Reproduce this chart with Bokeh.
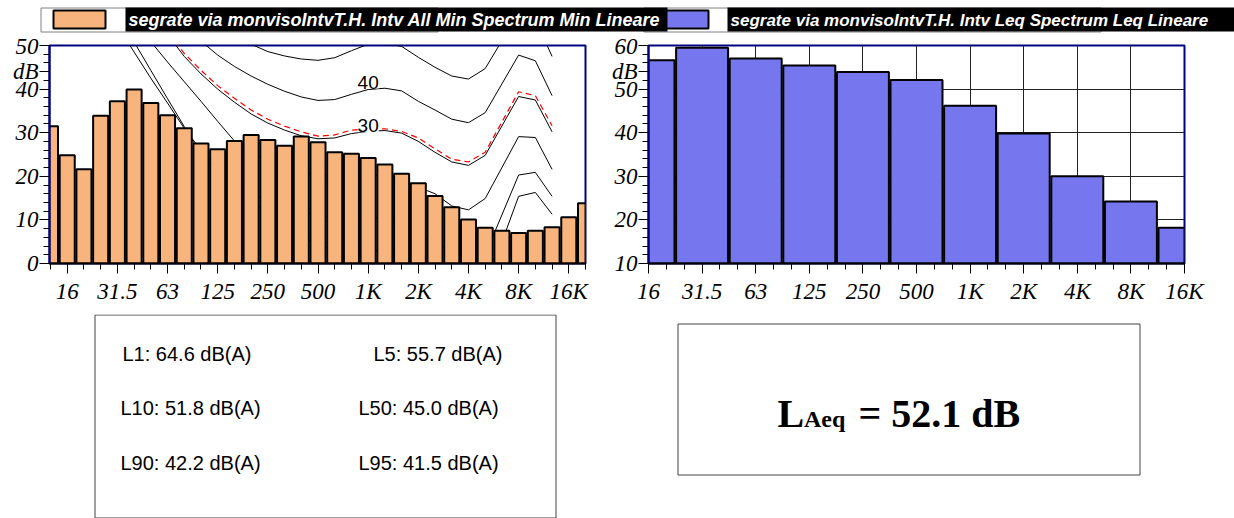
from bokeh.plotting import figure
from bokeh.models import Range1d, FixedTicker
from bokeh.layouts import column, row
from bokeh.embed import file_html
from bokeh.resources import INLINE
from bokeh.core.properties import value

# ---------------- data ----------------
third_labels = ["12.5", "16", "20", "25", "31.5", "40", "50", "63", "80", "100", "125", "160",
                "200", "250", "315", "400", "500", "630", "800", "1K", "1.25K", "1.6K", "2K",
                "2.5K", "3.15K", "4K", "5K", "6.3K", "8K", "10K", "12.5K", "16K", "20K"]
min_spectrum = [31.5, 24.8, 21.6, 33.9, 37.2, 39.9, 36.8, 34.0, 31.0, 27.5, 26.2, 28.1,
                29.5, 28.3, 27.0, 29.1, 27.8, 25.5, 25.2, 24.2, 22.7, 20.6, 18.4,
                15.5, 12.9, 10.1, 8.2, 7.5, 7.0, 7.5, 8.3, 10.6, 13.8]

octave_labels = ["16", "31.5", "63", "125", "250", "500", "1K", "2K", "4K", "8K", "16K"]
leq_spectrum = [56.6, 59.5, 57.0, 55.4, 53.9, 52.1, 46.2, 39.8, 30.0, 24.2, 18.2]

contour_freqs = ["31.5", "40", "50", "63", "80", "100", "125", "160", "200", "250", "315", "400",
                 "500", "630", "800", "1K", "1.25K", "1.6K", "2K", "2.5K", "3.15K", "4K", "5K",
                 "8K", "10K", "12.5K"]
contour_0 = [54.5, 48.5, 42.5, 36.8, 31, 26, 22, 18, 14.5, 11.5, 8.6, 6.2,
             4.4, 3.0, 2.2, 2.4, 3.5, 1.7, -1.3, -4.2, -6.0, -5.4, -5.5,
             15.4, 16.3, 11.3]
contour_10 = [57, 50.8, 44.3, 37.8, 31.4, 25, 21, 18, 16, 14.5, 13, 12,
              11, 10.5, 10, 10, 11, 10, 7, 4.5, 3, 2.5, 2,
              20.3, 20.9, 15.4]
contour_20 = [60, 55.5, 50.9, 46.2, 41.7, 37.2, 32.6, 28.1, 25.5, 23.5, 22, 21,
              20.2, 20, 20, 20, 20.5, 19.5, 17.5, 16, 13.2, 12.3, 14.9,
              29.1, 28.9, 21.6]
contour_30 = [66, 61.5, 57, 52.5, 47.5, 43.5, 40, 37, 34.3, 32.2, 30.6, 29.3,
              28.6, 28.8, 29.8, 30.3, 30.5, 29.9, 28, 25.5, 23.3, 22.5, 24.8,
              38.3, 37.5, 30.2]
contour_40 = [75, 70, 65, 60.5, 56, 51, 47.8, 45.2, 43, 41.1, 39.5, 38.2,
              37.4, 37.6, 38.8, 39.9, 40.2, 39.6, 37.2, 35.2, 33.1, 32.3, 34.6,
              47.8, 46.5, 38.5]
contour_50 = [84, 79, 74, 69, 64.5, 60, 56, 53, 50.3, 48.6, 47.6, 46.9,
              46.6, 47.2, 48.8, 50.3, 50.5, 49.8, 47.3, 45, 43, 42.3, 44.7,
              57.5, 56, 47.5]
reference_curve = [66.8, 62.3, 57.8, 53, 48.2, 44.3, 40.8, 37.9, 35.2, 33.1, 31.5, 30.2,
                   29.2, 29.5, 30.6, 30.9, 30.9, 30.3, 28.8, 26.3, 23.9, 23.3, 25.5,
                   39.4, 38.5, 31.6]
contour_label_levels = [30, 40]

stats_labels = ["L1", "L5", "L10", "L50", "L90", "L95"]
stats_values = [64.6, 55.7, 51.8, 45.0, 42.2, 41.5]
laeq_value = 52.1

legend_min = "segrate via monvisoIntvT.H. Intv All Min Spectrum Min Lineare"
legend_leq = "segrate via monvisoIntvT.H. Intv Leq Spectrum Leq Lineare"

# ---------------- style ----------------
ORANGE = "#F7B47C"
BLUE = "#7676EE"
NAVY = "#000080"
SERIF = value("Liberation Serif")
SANS = value("Liberation Sans")


def style_axes(p, yticks, yminor, ylabels, xticks, xminor, xlabels):
    p.yaxis.ticker = FixedTicker(ticks=yticks, minor_ticks=yminor)
    p.yaxis.major_label_overrides = ylabels
    p.xaxis.ticker = FixedTicker(ticks=xticks, minor_ticks=xminor)
    p.xaxis.major_label_overrides = xlabels
    for ax in (p.xaxis[0], p.yaxis[0]):
        ax.major_label_text_font = "Liberation Serif"
        ax.major_label_text_font_style = "italic"
        ax.major_label_text_font_size = "23px"
        ax.major_label_text_color = "black"
        ax.major_tick_out = 10
        ax.major_tick_in = 0
        ax.minor_tick_out = 6
        ax.minor_tick_in = 0
        ax.major_tick_line_color = "black"
        ax.minor_tick_line_color = "black"
    p.yaxis.major_label_standoff = 1
    p.xaxis.major_label_standoff = 5
    p.yaxis.axis_line_color = NAVY
    p.yaxis.axis_line_width = 2
    p.xaxis.axis_line_color = "black"
    p.xaxis.axis_line_width = 2
    p.outline_line_color = NAVY
    p.outline_line_width = 2
    p.background_fill_color = "white"
    p.border_fill_color = "white"


# ---------------- header (legend) ----------------
hdr = figure(width=1234, height=33, x_range=Range1d(0, 1234), y_range=Range1d(33, 0),
             toolbar_location=None, output_backend="svg", min_border=0,
             x_axis_type=None, y_axis_type=None)
hdr.grid.visible = False
hdr.outline_line_color = None
hdr.quad(left=[40.5, 643.5], right=[437.5, 1100.5], top=[7.5, 7.5], bottom=[31.5, 31.5],
         fill_color=None, line_color="#808080", line_width=1)
hdr.quad(left=[53, 656], right=[105, 708], top=[10, 10], bottom=[28, 28],
         fill_color=[ORANGE, BLUE], line_color="black", line_width=2)
hdr.quad(left=[125, 727], right=[667, 1234], top=[7, 7], bottom=[31, 31],
         fill_color="black", line_color=None)
hdr.text(x=[128], y=[19.5], text=[legend_min],
         text_color="white", text_font=SANS, text_font_style="bold italic",
         text_font_size="18px", text_baseline="middle", text_align="left")
hdr.text(x=[730], y=[19.5], text=[legend_leq],
         text_color="white", text_font=SANS, text_font_style="bold italic",
         text_font_size="17px", text_baseline="middle", text_align="left")

# ---------------- left chart (min spectrum, third octave) ----------------
xpos = [i - 1 for i in range(len(third_labels))]
pl = figure(width=600, height=281, x_range=Range1d(-1.06, 31.0), y_range=Range1d(0, 50),
            toolbar_location=None, output_backend="svg",
            min_border_left=49, min_border_right=15, min_border_top=12, min_border_bottom=51)
pl.grid.visible = False
oct_pos_third = [third_labels.index(l) - 1 for l in octave_labels]
style_axes(pl, [0, 10, 20, 30, 40, 44, 50], list(range(0, 51, 2)),
           {0: "0", 10: "10", 20: "20", 30: "30", 40: "40", 44: "dB", 50: "50"},
           oct_pos_third, list(range(-1, 32)),
           {pos: lab for pos, lab in zip(oct_pos_third, octave_labels)})

cx = [third_labels.index(f) - 1 for f in contour_freqs]
for curve in (contour_0, contour_10, contour_20, contour_30, contour_40, contour_50):
    pl.line(cx, curve, line_color="black", line_width=1)
pl.line(cx, reference_curve, line_color="#FF0000", line_width=1.2, line_dash="6 4")
ref_x = third_labels.index("1K") - 1
pl.text(x=[ref_x] * len(contour_label_levels), y=[lv + 1.6 for lv in contour_label_levels],
        text=[str(lv) for lv in contour_label_levels], text_align="center", text_baseline="middle",
        text_font=SANS, text_font_size="19px", text_color="black",
        background_fill_color="white")

pl.vbar(x=xpos, top=min_spectrum, bottom=0, width=0.9, fill_color=ORANGE,
        line_color="black", line_width=2)

# ---------------- right chart (Leq spectrum, octave) ----------------
opos = list(range(len(octave_labels)))
pr = figure(width=634, height=281, x_range=Range1d(0, 10), y_range=Range1d(10, 60),
            toolbar_location=None, output_backend="svg",
            min_border_left=48, min_border_right=50, min_border_top=12, min_border_bottom=51)
style_axes(pr, [10, 20, 30, 40, 50, 54, 60], list(range(10, 61, 2)),
           {10: "10", 20: "20", 30: "30", 40: "40", 50: "50", 54: "dB", 60: "60"},
           opos, [k / 3 for k in range(31)],
           {pos: lab for pos, lab in zip(opos, octave_labels)})
pr.xgrid.ticker = FixedTicker(ticks=opos)
pr.ygrid.ticker = FixedTicker(ticks=[20, 30, 40, 50])
pr.grid.grid_line_color = "#222222"
pr.grid.grid_line_width = 1
pr.grid.grid_line_alpha = 1
pr.vbar(x=opos, top=leq_spectrum, bottom=10, width=0.97, fill_color=BLUE,
        line_color="black", line_width=2)

# ---------------- bottom boxes ----------------
bot = figure(width=1234, height=204, x_range=Range1d(0, 1234), y_range=Range1d(204, 0),
             toolbar_location=None, output_backend="svg", min_border=0,
             x_axis_type=None, y_axis_type=None)
bot.grid.visible = False
bot.outline_line_color = None
bot.quad(left=[94.5, 677.5], right=[555.5, 1139.5], top=[0.5, 9.5], bottom=[203.5, 160.5],
         fill_color=None, line_color="#404040", line_width=1)
sx = [122, 373, 120, 358, 120, 358]
sy = [39, 39, 93, 93, 148, 148]
bot.text(x=sx, y=sy, text=[f"{l}: {v:.1f} dB(A)" for l, v in zip(stats_labels, stats_values)],
         text_font=SANS, text_font_size="20px", text_color="black",
         text_baseline="middle", text_align="left")
bot.text(x=[777], y=[99], text=["L"], text_font=SERIF, text_font_style="bold",
         text_font_size="40px", text_baseline="alphabetic", text_align="left")
bot.text(x=[803.5], y=[104], text=["Aeq"], text_font=SERIF, text_font_style="bold",
         text_font_size="24px", text_baseline="alphabetic", text_align="left")
bot.text(x=[858], y=[99], text=[f"= {laeq_value:.1f} dB"], text_font=SERIF, text_font_style="bold",
         text_font_size="40px", text_baseline="alphabetic", text_align="left")

layout = column(hdr, row(pl, pr, spacing=0), bot, spacing=0)
open("out.html", "w").write(file_html(layout, INLINE))
